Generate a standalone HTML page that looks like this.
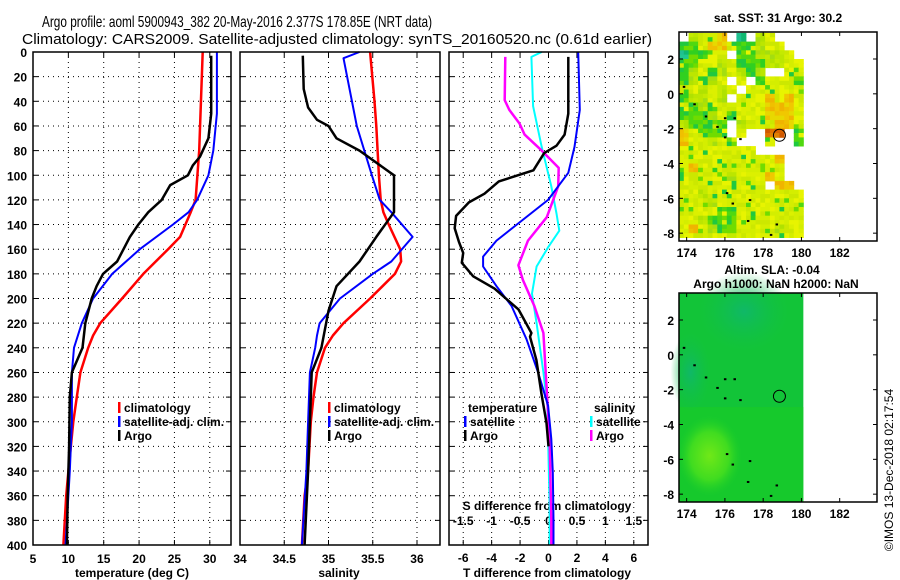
<!DOCTYPE html>
<html><head><meta charset="utf-8">
<style>
html,body{margin:0;padding:0;background:#fff;}
svg{display:block;font-family:"Liberation Sans",sans-serif;}
.tk{font-size:12px;font-weight:bold;fill:#000;}
.ttl{font-size:15px;fill:#000;}
.lg{font-size:12px;font-weight:bold;fill:#000;}
</style></head>
<body>
<svg id="chart" width="900" height="580" viewBox="0 0 900 580" xmlns="http://www.w3.org/2000/svg">
<text class="ttl" x="42" y="27" textLength="390" lengthAdjust="spacingAndGlyphs" style="font-size:16px">Argo profile: aoml 5900943_382 20-May-2016 2.377S 178.85E (NRT data)</text>
<text class="ttl" x="22" y="44" textLength="630" lengthAdjust="spacingAndGlyphs">Climatology: CARS2009. Satellite-adjusted climatology: synTS_20160520.nc (0.61d earlier)</text>
<g id="g"></g>
</svg>
<script>
// ---------- data ----------
const depthTicks=[0,20,40,60,80,100,120,140,160,180,200,220,240,260,280,300,320,340,360,380,400];
const tempTicks=[5,10,15,20,25,30];
const salTicks=[34,34.5,35,35.5,36];
const tdiffTicks=[-6,-4,-2,0,2,4,6];
const sdiffTicks=[-1.5,-1,-0.5,0,0.5,1,1.5];
// temperature profiles [depth, value]
const tempClim=[[0,29.0],[80,28.5],[120,28.0],[130,27.3],[150,25.8],[160,24.1],[180,20.6],[200,17.6],[220,14.5],[230,13.5],[240,12.8],[260,11.7],[280,11.2],[300,10.7],[340,10.0],[360,9.7],[400,9.3]];
const tempSat=[[0,31.0],[50,31.0],[80,30.5],[100,29.8],[120,28.2],[130,27.0],[140,24.8],[160,20.1],[180,16.2],[200,13.5],[220,11.9],[240,10.8],[260,10.5],[300,10.5],[340,10.2],[400,9.6]];
const tempArgo=[[3,30.2],[50,30.2],[70,29.8],[85,28.6],[92,27.6],[100,26.9],[108,24.4],[120,23.2],[130,21.3],[140,19.9],[150,18.7],[170,16.9],[180,14.9],[190,14.0],[200,13.3],[220,12.4],[240,12.0],[260,10.5],[280,10.2],[320,10.1],[360,9.9],[400,9.8]];
// salinity profiles
const salClim=[[0,35.47],[40,35.52],[60,35.54],[100,35.57],[120,35.59],[130,35.62],[140,35.68],[160,35.81],[170,35.82],[180,35.75],[200,35.47],[220,35.17],[230,35.05],[240,34.96],[260,34.87],[280,34.83],[300,34.80],[340,34.77],[360,34.73],[400,34.70]];
const salSat=[[0,35.35],[5,35.17],[60,35.32],[100,35.49],[120,35.58],[130,35.71],[150,35.95],[170,35.71],[180,35.5],[200,35.13],[220,34.9],[230,34.87],[240,34.85],[260,34.79],[300,34.77],[340,34.75],[400,34.70]];
const salArgo=[[3,34.71],[30,34.72],[45,34.77],[55,34.87],[60,35.0],[70,35.09],[80,35.35],[100,35.74],[130,35.74],[150,35.54],[170,35.35],[190,35.09],[210,35.0],[240,34.92],[260,34.81],[300,34.79],[340,34.77],[400,34.73]];
// differences from climatology
const tdiffArgo=[[4,1.39],[50,1.39],[67,1.13],[76,0.56],[82,-0.3],[96,-1.06],[105,-3.5],[115,-4.5],[122,-5.6],[133,-6.5],[143,-6.6],[154,-6.3],[163,-6.0],[171,-6.1],[182,-5.3],[192,-3.8],[209,-2.1],[228,-1.2],[231,-1.3],[250,-0.85],[277,-0.5],[301,-0.14],[320,0]];
const tdiffSat=[[0,2.09],[47,2.2],[77,1.83],[98,1.39],[109,0.68],[120,-0.03],[137,-1.9],[153,-3.66],[166,-4.6],[174,-4.6],[190,-3.66],[206,-2.6],[233,-1.55],[260,-0.73],[287,-0.03],[314,0.2],[341,0.3],[380,0.35],[400,0.35]];
const sdiffSat=[[0,-0.12],[4,-0.3],[44,-0.27],[77,-0.12],[109,0.05],[131,0.14],[145,0.19],[158,0.0],[174,-0.21],[196,-0.29],[220,-0.21],[260,-0.09],[287,-0.02],[369,0.02],[400,0.02]];
const sdiffArgo=[[4,-0.76],[39,-0.77],[47,-0.69],[58,-0.51],[67,-0.42],[80,-0.12],[94,0.18],[109,0.17],[134,-0.03],[153,-0.36],[173,-0.53],[185,-0.45],[206,-0.25],[228,-0.09],[260,-0.05],[314,0.02],[380,0.05],[400,0.05]];
// SST map coarse classes (0.5 deg cells, rows from 3.5N southward, cols from 173.6E)
const sstRows=[
"wlyyowcwlywww","ggyooygglyyww","cggyywgglllyw","ggyylygggllyy","glyglylglwwyy",
"glglywywgyyyg","yylylywyyyyyy","gllylwyyyoyoy","yglgyyyyyoooy","ggglygyyyoooy",
"lggggwlyyyooy","oygggwywwrrwg","oyylygwwwywwg","yyyyyyyywwwww","yyyyyyyyyyoww",
"yoyyyyyyyyyww","yyyyylyyyoyww","yyyyyyyyywoow","yylyyyyyyyyyy","yyylyyyyyyyyy",
"yyyyggyyyyyyy","yylgggyyyyyyy","yoylggyyyylyy","yyyyylyyyyyyy"];
const lonTicks=[174,176,178,180,182];
const latTicks=[2,0,-2,-4,-6,-8];
const argoLon=178.85, argoLat=-2.377;

// ---------- drawing ----------
const NS='http://www.w3.org/2000/svg';
const G=document.getElementById('g');
function mk(tag,attrs,parent){const e=document.createElementNS(NS,tag);for(const k in attrs)e.setAttribute(k,attrs[k]);(parent||G).appendChild(e);return e;}
const Y0=52,Y1=545;
const yD=d=>Y0+(d/400)*(Y1-Y0);
function panel(x0,x1,vmin,vmax){return v=>x0+(v-vmin)/(vmax-vmin)*(x1-x0);}
const P=[
 {x0:33,x1:231,min:5,max:33,name:'temperature-panel'},
 {x0:240,x1:440,min:34,max:36.26,name:'salinity-panel'},
 {x0:449,x1:648,min:-7,max:7,name:'difference-panel'}];
P.forEach(p=>p.fx=panel(p.x0,p.x1,p.min,p.max));
const sx=s=>P[2].fx(s*4);

function grid(p,xt,fx){
  const g=mk('g',{});
  
  
  depthTicks.forEach(d=>{ if(d>0&&d<400){
    const l=mk('line',{x1:p.x0,x2:p.x1,y1:yD(d),y2:yD(d),stroke:'#000','stroke-width':1,'stroke-dasharray':'1,4'},g);
    
    mk('line',{x1:p.x0,x2:p.x0+5,y1:yD(d),y2:yD(d),stroke:'#000'},g);
    mk('line',{x1:p.x1-5,x2:p.x1,y1:yD(d),y2:yD(d),stroke:'#000'},g);}});
  xt.forEach(v=>{const x=fx(v); if(x>p.x0+1&&x<p.x1-1){
    const l=mk('line',{x1:x,x2:x,y1:Y0,y2:Y1,stroke:'#000','stroke-width':1,'stroke-dasharray':'1,4'},g);
    
    mk('line',{x1:x,x2:x,y1:Y0,y2:Y0+5,stroke:'#000'},g);
    mk('line',{x1:x,x2:x,y1:Y1-5,y2:Y1,stroke:'#000'},g);}});
}
function box(p){const r=mk('rect',{x:p.x0,y:Y0,width:p.x1-p.x0,height:Y1-Y0,fill:'none',stroke:'#000','stroke-width':1.5});
  }
function line(arr,fx,color,w,name){
  const pts=arr.map(a=>fx(a[1]).toFixed(1)+','+yD(a[0]).toFixed(1)).join(' ');
  const e=mk('polyline',{points:pts,fill:'none',stroke:color,'stroke-width':w,'stroke-linejoin':'round'});
  
}
function txt(x,y,s,cls,anchor,name){const t=mk('text',{x:x,y:y,class:cls,'text-anchor':anchor||'start'});t.textContent=s;
  return t;}

grid(P[0],tempTicks,P[0].fx);
grid(P[1],salTicks,P[1].fx);
grid(P[2],tdiffTicks,P[2].fx);

depthTicks.forEach(d=>txt(27,yD(d)+5,String(d),'tk','end','depth-tick-label'));
tempTicks.forEach(v=>txt(P[0].fx(v),563,String(v),'tk','middle','temperature-tick-label'));
salTicks.forEach(v=>txt(P[1].fx(v),563,String(v),'tk','middle','salinity-tick-label'));
tdiffTicks.forEach(v=>txt(P[2].fx(v),562,String(v),'tk','middle','tdiff-tick-label'));
sdiffTicks.forEach(v=>txt(sx(v),525,String(v),'tk','middle','sdiff-tick-label'));
txt(132,577,'temperature (deg C)','tk','middle','x-axis-title-temperature');
txt(339,577,'salinity','tk','middle','x-axis-title-salinity');
txt(547,577,'T difference from climatology','tk','middle','x-axis-title-tdiff');
txt(547,510,'S difference from climatology','tk','middle','x-axis-title-sdiff');

line(tempClim,P[0].fx,'#f00',2.5,'temperature-climatology-line');
line(tempSat,P[0].fx,'#00f',2,'temperature-satellite-line');
line(tempArgo,P[0].fx,'#000',2.5,'temperature-argo-line');
line(salClim,P[1].fx,'#f00',2.5,'salinity-climatology-line');
line(salSat,P[1].fx,'#00f',2,'salinity-satellite-line');
line(salArgo,P[1].fx,'#000',2.5,'salinity-argo-line');
line(sdiffSat,sx,'#0ff',2,'sdiff-satellite-line');
line(sdiffArgo,sx,'#f0f',2.5,'sdiff-argo-line');
line(tdiffSat,P[2].fx,'#00f',2,'tdiff-satellite-line');
line(tdiffArgo,P[2].fx,'#000',2.5,'tdiff-argo-line');
P.forEach(box);

function leg(x,y,color,label,name){
  const g=mk('g',{});
  mk('rect',{x:x,y:y-10,width:2.5,height:11,fill:color},g);
  const t=mk('text',{x:x+6,y:y,class:'lg'},g);t.textContent=label;
}
[['#f00','climatology'],['#00f','satellite-adj. clim.'],['#000','Argo']].forEach((l,i)=>leg(118,412+i*14,l[0],l[1],'temp-legend-entry'));
[['#f00','climatology'],['#00f','satellite-adj. clim.'],['#000','Argo']].forEach((l,i)=>leg(328,412+i*14,l[0],l[1],'sal-legend-entry'));
txt(468,412,'temperature','lg','start','tdiff-legend-title');
txt(594,412,'salinity','lg','start','sdiff-legend-title');
leg(464,426,'#00f','satellite','tdiff-legend-satellite');
leg(464,440,'#000','Argo','tdiff-legend-argo');
leg(590,426,'#0ff','satellite','sdiff-legend-satellite');
leg(590,440,'#f0f','Argo','sdiff-legend-argo');

// ---------- maps ----------
const MX0=679,MX1=877,LON0=173.6,LON1=183.95;
const mlon=x=>MX0+(x-LON0)/(LON1-LON0)*(MX1-MX0);
function mapAxes(top,bottom,latTop,latBot,name){
  const my=l=>top+(latTop-l)/(latTop-latBot)*(bottom-top);
  const g=mk('g',{});
  mk('rect',{x:MX0,y:top,width:MX1-MX0,height:bottom-top,fill:'none',stroke:'#000','stroke-width':1.5},g);
  latTicks.forEach(l=>{mk('line',{x1:MX0,x2:MX0+4,y1:my(l),y2:my(l),stroke:'#000'},g);mk('line',{x1:MX1-4,x2:MX1,y1:my(l),y2:my(l),stroke:'#000'},g);
    txt(674,my(l)+5,String(l),'tk','end',name+'-lat-label');});
  lonTicks.forEach(l=>{mk('line',{x1:mlon(l),x2:mlon(l),y1:top,y2:top+4,stroke:'#000'},g);mk('line',{x1:mlon(l),x2:mlon(l),y1:bottom-4,y2:bottom,stroke:'#000'},g);
    txt(mlon(l),bottom+16,String(l),'tk','middle',name+'-lon-label');});
  return my;
}
const COL={y:['#dcf000','#d4ee00','#e8f400','#cce800'],l:['#bce600','#b0e200','#c4ea00','#a4de10'],g:['#30d020','#20c840','#50d810','#70dc00'],
  o:['#f0c800','#f0b400','#e8d800','#f0c000'],r:['#d86000','#e07000','#d05800','#e08000'],c:['#20c890','#10b870','#30d0b0','#20c090'],w:['#fff','#fff','#fff','#fff']};
function hash(i,j){let h=(i*374761393+j*668265263)>>>0;h=(h^(h>>>13))*1274126177>>>0;return (h^(h>>>16))>>>0;}
const sstTop=32,sstBot=241,sstLatTop=3.55,sstLatBot=-8.45;
const myS=l=>sstTop+(sstLatTop-l)/(sstLatTop-sstLatBot)*(sstBot-sstTop);
const sstG=mk('g',{});
sstRows.forEach((row,r)=>{[...row].forEach((ch,c)=>{
  for(let a=0;a<2;a++)for(let b=0;b<2;b++){
    const lat=3.5-r*0.5-a*0.25, lon=LON0+c*0.5+b*0.25;
    if(lat-0.25<-8.35)continue;
    const h=hash(r*2+a,c*2+b);
    let k=ch;
    if(k!=='w'&&h%11===0)k=(k==='y'?'g':(k==='g'?'y':k));
    if(k==='w')continue;
    const col=COL[k][h%4];
    const cell=mk('rect',{x:mlon(lon).toFixed(1),y:myS(lat).toFixed(1),width:(mlon(lon+0.25)-mlon(lon)+0.4).toFixed(1),height:(myS(lat-0.25)-myS(lat)+0.4).toFixed(1),fill:col},sstG);
    
  }})});
mapAxes(sstTop,sstBot,sstLatTop,sstLatBot,'sst-map');
const c1=mk('circle',{cx:mlon(argoLon),cy:myS(argoLat),r:6,fill:'none',stroke:'#000','stroke-width':1});

txt(778,22,'sat. SST: 31 Argo: 30.2','tk','middle','sst-map-title');

const slaTop=293,slaBot=502,slaLatTop=3.55,slaLatBot=-8.45;
const myA=l=>slaTop+(slaLatTop-l)/(slaLatTop-slaLatBot)*(slaBot-slaTop);
const defs=mk('defs',{});
const rg=mk('radialGradient',{id:'lp',cx:'0.5',cy:'0.5',r:'0.5'},defs);
mk('stop',{offset:'0','stop-color':'#70e818'},rg);mk('stop',{offset:'0.6','stop-color':'#40dc20'},rg);mk('stop',{offset:'1','stop-color':'#20d028','stop-opacity':'0'},rg);
const rg2=mk('radialGradient',{id:'cp',cx:'0.5',cy:'0.5',r:'0.5'},defs);
mk('stop',{offset:'0','stop-color':'#10b868'},rg2);mk('stop',{offset:'1','stop-color':'#10c048','stop-opacity':'0'},rg2);
const slaG=mk('g',{});
mk('rect',{x:mlon(LON0),y:slaTop,width:mlon(180.1)-mlon(LON0),height:slaBot-slaTop,fill:'#12c438'},slaG);
mk('rect',{x:mlon(LON0),y:myA(-3),width:mlon(180.1)-mlon(LON0),height:slaBot-myA(-3),fill:'#18cc28',opacity:0.7},slaG);
mk('ellipse',{cx:mlon(177),cy:myA(2.5),rx:45,ry:40,fill:'url(#cp)'},slaG);
mk('ellipse',{cx:mlon(174.2),cy:myA(-1),rx:20,ry:40,fill:'url(#cp)'},slaG);
mk('ellipse',{cx:mlon(175.2),cy:myA(-5.8),rx:32,ry:40,fill:'url(#lp)'},slaG);
mapAxes(slaTop,slaBot,slaLatTop,slaLatBot,'sla-map');
const c2=mk('circle',{cx:mlon(argoLon),cy:myA(argoLat),r:6,fill:'none',stroke:'#000','stroke-width':1});

txt(772,274,'Altim. SLA: -0.04','tk','middle','sla-map-title-1');
txt(776,288,'Argo h1000: NaN h2000: NaN','tk','middle','sla-map-title-2');

[[173.85,0.4],[174.4,-0.6],[175,-1.3],[175.6,-1.9],[176,-1.4],[176.5,-1.4],[176,-2.5],[176.8,-2.6],[176.1,-5.7],[176.4,-6.3],[177.2,-7.3],[177.3,-6.1],[178.4,-8.1],[178.7,-7.5]].forEach(p=>{
  [myS,myA].forEach(f=>{const m=mk('rect',{x:mlon(p[0])-1,y:f(p[1])-1,width:2.5,height:2,fill:'#000'});
    });
});
const ts=txt(0,0,'©IMOS 13-Dec-2018 02:17:54','tk','middle','timestamp');
ts.setAttribute('transform','translate(893,470) rotate(-90)');
ts.setAttribute('style','font-weight:normal;font-size:12px');
</script>
</body></html>
